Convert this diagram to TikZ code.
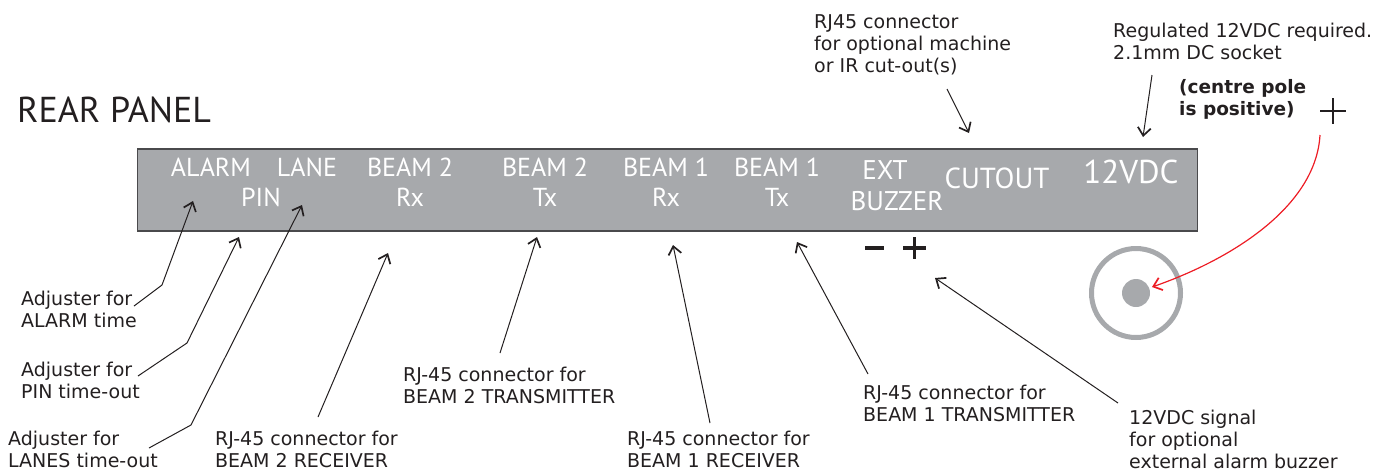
\documentclass[tikz,border=0pt]{standalone}
\usepackage{fontspec}
\setmainfont{DejaVu Sans}
\newfontfamily\panelfont{PT Sans}
\usetikzlibrary{arrows.meta}
\definecolor{ink}{HTML}{231F20}
\definecolor{panelgray}{HTML}{A7A9AC}
\definecolor{edgegray}{HTML}{4A4A4C}
\definecolor{redline}{HTML}{ED1C24}
\tikzset{
  lbl/.style={anchor=base west, inner sep=0pt, align=left, text=ink, font=\fontsize{19}{22}\selectfont},
  boldlbl/.style={lbl, font=\bfseries\fontsize{18.5}{22}\selectfont},
  ptxt/.style={anchor=base, inner sep=0pt, align=center, text=white, font=\panelfont\fontsize{26}{30}\selectfont},
  ptr/.style={draw=ink, line width=1pt, -{Straight Barb[length=8pt,width=13pt,line width=1.7pt]}},
  redptr/.style={draw=redline, line width=1.2pt, -{Straight Barb[length=8pt,width=13pt,line width=1.7pt]}},
}
\begin{document}
\begin{tikzpicture}[x=1pt,y=-1pt]
\useasboundingbox (0,0) rectangle (1384,472);
% title
\node[anchor=base west, inner sep=0pt, text=ink, font=\panelfont\fontsize{36}{40}\selectfont] (title) at (17,122) {REAR PANEL};
% panel
\node[draw=edgegray, fill=panelgray, line width=1.8pt, minimum width=1060pt, minimum height=82pt, inner sep=0pt] (panel) at (667.5,190) {};
\node[ptxt] (alarm) at (211,176) {ALARM};
\node[ptxt] (lane) at (307,176) {LANE};
\node[ptxt] (pin) at (261,206) {PIN};
\node[ptxt] (btworx) at (410,206) {BEAM 2\\Rx};
\node[ptxt] (btwotx) at (545,206) {BEAM 2\\Tx};
\node[ptxt] (bonerx) at (666,206) {BEAM 1\\Rx};
\node[ptxt] (bonetx) at (777,206) {BEAM 1\\Tx};
\node[ptxt, font=\panelfont\fontsize{27}{31}\selectfont] (ext) at (885,179) {EXT};
\node[ptxt, font=\panelfont\fontsize{27}{31}\selectfont] (buzzer) at (897,210) {BUZZER};
\node[ptxt, font=\panelfont\fontsize{29}{33}\selectfont] (cutout) at (997,188) {CUTOUT};
\node[ptxt, font=\panelfont\fontsize{33}{36}\selectfont] (vdc) at (1131,183) {12VDC};
% minus / plus under panel
\draw[ink, line width=4.5pt] (865,248) -- (884,248);
\draw[ink, line width=3.2pt] (903,248) -- (926,248) (914.5,237) -- (914.5,259);
% socket
\node[circle, draw=panelgray, line width=5pt, minimum size=89pt, inner sep=0pt] (socket) at (1136,293) {};
\node[circle, fill=panelgray, minimum size=28pt, inner sep=0pt] (pole) at (1136,293) {};
% top-right plus
\draw[ink, line width=1.5pt] (1320,111) -- (1346,111) (1333,98) -- (1333,124);
% labels (anchor = baseline of the last line)
\node[lbl] (lalarm) at (21,327) {Adjuster for\\ALARM time};
\node[lbl] (lpin) at (21,398) {Adjuster for\\PIN time-out};
\node[lbl] (llanes) at (8,467) {Adjuster for\\LANES time-out};
\node[lbl] (lbtworx) at (215,467) {RJ-45 connector for\\BEAM 2 RECEIVER};
\node[lbl] (lbtwotx) at (403,403) {RJ-45 connector for\\BEAM 2 TRANSMITTER};
\node[lbl] (lbonerx) at (627,467) {RJ-45 connector for\\BEAM 1 RECEIVER};
\node[lbl] (lbonetx) at (863,421) {RJ-45 connector for\\BEAM 1 TRANSMITTER};
\node[lbl] (lbuzz) at (1129,468) {12VDC signal\\for optional\\external alarm buzzer};
\node[lbl] (lcut) at (814,72) {RJ45 connector\\for optional machine\\or IR cut-out(s)};
\node[lbl] (lreg) at (1113,59) {Regulated 12VDC required.\\2.1mm DC socket};
\node[boldlbl] (lpole) at (1179,115) {(centre pole\\is positive)};
% connector points
\coordinate (aones) at (134,306); \coordinate (aonek) at (162,285); \coordinate (aonet) at (193,201);
\coordinate (atwos) at (138,376); \coordinate (atwok) at (187,343); \coordinate (atwot) at (239,237);
\coordinate (athrs) at (149,448); \coordinate (athrk) at (191,425); \coordinate (athrt) at (302,205);
\coordinate (afours) at (318,417); \coordinate (afourt) at (388,253);
\coordinate (afives) at (500,353); \coordinate (afivet) at (537,237);
\coordinate (asixs) at (710,423); \coordinate (asixt) at (673,245);
\coordinate (asevs) at (868,374); \coordinate (asevt) at (797,242);
\coordinate (aeigs) at (1118,403); \coordinate (aeigt) at (935,278);
\coordinate (anins) at (947,89); \coordinate (anint) at (969,133);
\coordinate (atens) at (1152,75); \coordinate (atent) at (1143,137);
\coordinate (reds) at (1320,135); \coordinate (redt) at (1152,287);
\draw[ptr] (aones) -- (aonek) -- (aonet);
\draw[ptr] (atwos) -- (atwok) -- (atwot);
\draw[ptr] (athrs) -- (athrk) -- (athrt);
\draw[ptr] (afours) -- (afourt);
\draw[ptr] (afives) -- (afivet);
\draw[ptr] (asixs) -- (asixt);
\draw[ptr] (asevs) -- (asevt);
\draw[ptr] (aeigs) -- (aeigt);
\draw[ptr] (anins) -- (anint);
\draw[ptr] (atens) -- (atent);
\draw[redptr] (reds) .. controls (1316,205) and (1235,258) .. (redt);
\end{tikzpicture}
\end{document}
